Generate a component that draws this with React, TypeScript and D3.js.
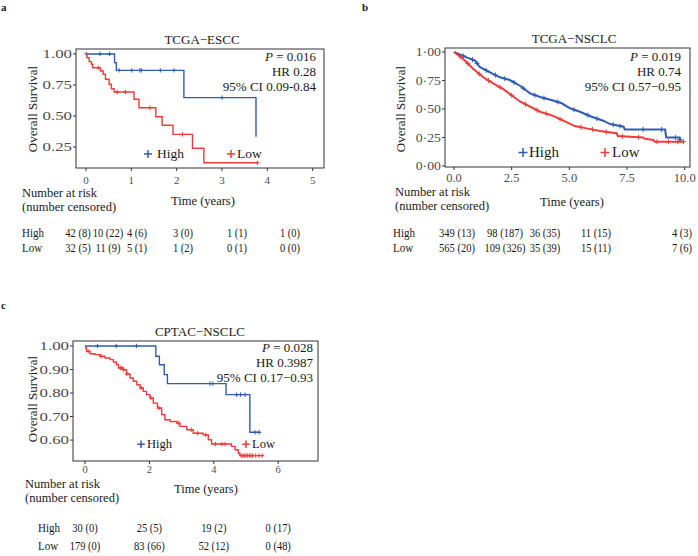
import React from 'react';
import * as d3 from 'd3';

const BLUE = '#2f5cb3';
const RED = '#f23a3a';
const FONT = '"Liberation Serif", "Times New Roman", serif';
const INK = '#1a1a1a';
const GREY = '#4d4d4d';

// ---- a: TCGA-ESCC ----
const escHighTime = [0, 0.63, 0.67, 2.16, 3.75];
const escHighSurv = [1, 0.93, 0.868, 0.648, 0.333];
const escHighCens = [0.01, 0.31, 0.52, 0.73, 1.01, 1.19, 1.22, 1.64, 1.94, 3.0];
const escLowTime = [0, 0.02, 0.07, 0.12, 0.15, 0.32, 0.38, 0.43, 0.51, 0.56, 0.62, 1.06, 1.17, 1.54, 1.68, 1.92, 2.35, 2.6, 3.78];
const escLowSurv = [1, 0.969, 0.938, 0.917, 0.889, 0.863, 0.836, 0.796, 0.756, 0.72, 0.694, 0.635, 0.567, 0.494, 0.425, 0.352, 0.24, 0.123, 0.123];
const escLowCens = [0.27, 0.69, 0.87, 1.41, 2.13, 3.78];
const escXTicks = [0, 1, 2, 3, 4, 5];
const escYTicks = [0.25, 0.5, 0.75, 1.0];
const escRiskHigh = ['42 (8)', '10 (22)', '4 (6)', '3 (0)', '1 (1)', '1 (0)'];
const escRiskLow = ['32 (5)', '11 (9)', '5 (1)', '1 (2)', '0 (1)', '0 (0)'];

// ---- b: TCGA-NSCLC ----
const nscHighTime = [0, 0.3, 0.55, 0.91, 1.13, 1.56, 1.99, 2.42, 2.86, 3.3, 3.73, 4.3, 4.67, 5.03, 5.46, 5.96, 6.47, 6.77, 7.35, 7.4, 9.15, 9.2, 9.78, 9.82];
const nscHighSurv = [1, 0.975, 0.953, 0.924, 0.866, 0.822, 0.778, 0.754, 0.704, 0.637, 0.605, 0.575, 0.55, 0.506, 0.476, 0.432, 0.397, 0.368, 0.345, 0.32, 0.32, 0.25, 0.25, 0.21];
const nscHighCens = [0.4, 0.8, 1.0, 1.4, 1.8, 2.2, 2.6, 3.0, 3.5, 3.9, 4.5, 5.2, 5.8, 6.2, 6.9, 7.2, 8.2, 9.0, 9.6, 9.8];
const nscLowTime = [0, 0.3, 0.55, 0.84, 1.27, 1.7, 2.13, 2.42, 2.86, 3.3, 3.73, 4.3, 4.74, 5.24, 5.75, 6.33, 7.05, 7.1, 8.2, 8.25, 8.64, 8.7, 9.97];
const nscLowSurv = [1, 0.955, 0.91, 0.851, 0.778, 0.725, 0.675, 0.632, 0.566, 0.52, 0.476, 0.44, 0.397, 0.35, 0.33, 0.307, 0.287, 0.262, 0.25, 0.24, 0.228, 0.213, 0.213];
const nscLowCens = [0.3, 0.6, 1.1, 1.5, 2.0, 2.5, 3.1, 3.6, 4.0, 4.6, 5.5, 6.0, 6.6, 7.3, 8.0, 8.8, 9.3, 9.7, 9.95];
const nscXTicks = [0, 2.5, 5, 7.5, 10];
const nscYTicks = [0, 0.25, 0.5, 0.75, 1.0];
const nscRiskHigh = ['349 (13)', '98 (187)', '36 (35)', '11 (15)', '4 (3)'];
const nscRiskLow = ['565 (20)', '109 (326)', '35 (39)', '15 (11)', '7 (6)'];

// ---- c: CPTAC-NSCLC ----
const cpHighTime = [0, 2.2, 2.31, 2.46, 2.56, 4.38, 5.12, 5.43];
const cpHighSurv = [1, 0.956, 0.92, 0.878, 0.84, 0.793, 0.633, 0.633];
const cpHighCens = [0.39, 0.97, 1.6, 3.88, 3.97, 4.71, 4.83, 4.97, 5.28, 5.41];
const cpLowTime = [0, 0.02, 0.05, 0.16, 0.31, 0.47, 0.62, 0.78, 0.88, 0.98, 1.04, 1.19, 1.29, 1.4, 1.5, 1.61, 1.71, 1.81, 1.91, 2.02, 2.12, 2.25, 2.38, 2.48, 2.64, 2.85, 2.95, 3.16, 3.36, 3.67, 3.83, 3.93, 4.55, 4.66, 4.76, 4.81, 5.52];
const cpLowSurv = [1, 0.991, 0.977, 0.967, 0.963, 0.956, 0.949, 0.942, 0.932, 0.92, 0.906, 0.899, 0.881, 0.864, 0.85, 0.835, 0.821, 0.807, 0.793, 0.779, 0.757, 0.736, 0.708, 0.686, 0.679, 0.672, 0.658, 0.644, 0.629, 0.622, 0.601, 0.583, 0.573, 0.559, 0.544, 0.534, 0.534];
const cpLowCens = [0.1, 0.5, 1.1, 1.15, 1.2, 1.3, 1.75, 2.05, 2.3, 2.9, 3.3, 3.5, 3.75, 4.05, 4.25, 4.35, 4.85, 4.9, 4.95, 5.0, 5.05, 5.1, 5.15, 5.2, 5.3, 5.4, 5.5];
const cpXTicks = [0, 2, 4, 6];
const cpYTicks = [0.6, 0.7, 0.8, 0.9, 1.0];
const cpRiskHigh = ['30 (0)', '25 (5)', '19 (2)', '0 (17)'];
const cpRiskLow = ['179 (0)', '83 (66)', '52 (12)', '0 (48)'];

type Curve = { time: number[]; surv: number[]; cens: number[]; color: string };

// survival value at a censoring time (step lookup, or along the drawn line for panel b)
const survAt = (c: Curve, t: number, linear: boolean) => {
  let i = d3.bisectRight(c.time, t) - 1;
  if (i < 0) i = 0;
  if (!linear || i >= c.time.length - 1) return c.surv[i];
  const f = (t - c.time[i]) / (c.time[i + 1] - c.time[i]);
  return c.surv[i] + f * (c.surv[i + 1] - c.surv[i]);
};

const Plus = ({ x, y, s, color, w }: any) => (
  <g stroke={color} strokeWidth={w}>
    <line x1={x - s} x2={x + s} y1={y} y2={y} />
    <line x1={x} x2={x} y1={y - s} y2={y + s} />
  </g>
);

function Panel({ cfg }: { cfg: any }) {
  const { box } = cfg;
  const x = d3.scaleLinear().domain(cfg.xDomain).range([box.left, box.right]);
  const y = d3.scaleLinear().domain(cfg.yDomain).range([box.bottom, box.top]);
  const line = d3
    .line<[number, number]>()
    .x(d => x(d[0]))
    .y(d => y(d[1]))
    .curve(cfg.linear ? d3.curveLinear : d3.curveStepAfter);
  const cols: number[] = cfg.riskCols || cfg.xTicks.map((t: number) => x(t));

  return (
    <g fontFamily={FONT}>
      <text x={cfg.tag[0]} y={cfg.tag[1]} fontSize={11} fontWeight="bold" fill={INK}>{cfg.tagText}</text>
      <text x={cfg.titleX} y={box.top - 5} textAnchor="middle" fontSize={13} fill={INK}>{cfg.title}</text>
      <rect x={box.left} y={box.top} width={box.right - box.left} height={box.bottom - box.top} fill="white" stroke="#333" strokeWidth={1} />
      {/* axes */}
      {cfg.yTicks.map((v: number) => (
        <g key={'y' + v}>
          <line x1={box.left - 3} x2={box.left} y1={y(v)} y2={y(v)} stroke="#333" />
          <g transform={`translate(${box.left - 4},${y(v)}) scale(${cfg.yStretch},1)`}>
            <text textAnchor="end" dominantBaseline="central" fontSize={cfg.yFont} fill={GREY}>{cfg.yFmt(v)}</text>
          </g>
        </g>
      ))}
      {cfg.xTicks.map((v: number) => (
        <g key={'x' + v}>
          <line x1={x(v)} x2={x(v)} y1={box.bottom} y2={box.bottom + 3} stroke="#333" />
          <text x={x(v)} y={cfg.xLabelY} textAnchor="middle" fontSize={cfg.xFont} fill={GREY}>{cfg.xFmt(v)}</text>
        </g>
      ))}
      <text transform={`translate(${cfg.yTitle[0]},${cfg.yTitle[1]}) rotate(-90)`} textAnchor="middle" fontSize={13} fill={INK}>Overall Survival</text>
      {/* curves + censor marks */}
      {cfg.curves.map((c: Curve, k: number) => (
        <g key={'c' + k}>
          <path d={line(c.time.map((t, i) => [t, c.surv[i]] as [number, number])) || ''} fill="none" stroke={c.color} strokeWidth={cfg.lineW} />
          {c.cens.map((t, i) => (
            <Plus key={i} x={x(t)} y={y(survAt(c, t, cfg.linear))} s={cfg.censS} color={c.color} w={1} />
          ))}
        </g>
      ))}
      {/* stats */}
      <g fontSize={13} fill={INK} textAnchor="end">
        <text x={cfg.annX} y={box.top + cfg.annDy}>
          <tspan fontStyle="italic">P</tspan> = {cfg.pval}
        </text>
        <text x={cfg.annX} y={box.top + cfg.annDy + 15}>{cfg.hr}</text>
        <text x={cfg.annX} y={box.top + cfg.annDy + 30}>{cfg.ci}</text>
      </g>
      {/* legend */}
      {cfg.legend.map((l: any, i: number) => (
        <g key={'l' + i}>
          <Plus x={l.px} y={cfg.legY - cfg.legFont * 0.3} s={cfg.legFont * 0.3} color={l.color} w={1.5} />
          <text x={l.tx} y={cfg.legY} fontSize={cfg.legFont} fill={INK}>{l.label}</text>
        </g>
      ))}
      {/* risk table */}
      <text x={cfg.nar[0]} y={cfg.nar[1]} fontSize={12.5} fill={INK}>Number at risk</text>
      <text x={cfg.nar[0]} y={cfg.nar[1] + 14} fontSize={12.5} fill={INK}>(number censored)</text>
      <text x={cfg.timeLab[0]} y={cfg.timeLab[1]} textAnchor="middle" fontSize={12.5} fill={INK}>Time (years)</text>
      {[['High', cfg.riskHigh, cfg.rowY[0]], ['Low', cfg.riskLow, cfg.rowY[1]]].map(([lab, vals, ry]: any) => (
        <g key={lab}>
          <g transform={`translate(${cfg.rowLabX},${ry}) scale(0.88,1)`}>
            <text fontSize={12.5} fill={INK}>{lab}</text>
          </g>
          {vals.map((v: string, i: number) => (
            <g key={i} transform={`translate(${cols[i]},${ry}) scale(0.84,1)`}>
              <text textAnchor="middle" fontSize={12.5} fill={INK}>{v}</text>
            </g>
          ))}
        </g>
      ))}
    </g>
  );
}

const panelA = {
  tagText: 'a', tag: [1, 11],
  title: 'TCGA\u2212ESCC', titleX: 202,
  box: { left: 76, right: 324, top: 49, bottom: 168 },
  xDomain: [-0.22, 5.25], yDomain: [0.081, 1.04],
  xTicks: escXTicks, yTicks: escYTicks,
  yFmt: d3.format('.2f'), xFmt: (d: number) => String(d),
  yFont: 12.5, yStretch: 1.35, xFont: 11, xLabelY: 184,
  yTitle: [37, 109], linear: false, lineW: 1.4, censS: 2.2,
  curves: [
    { time: escHighTime, surv: escHighSurv, cens: escHighCens, color: BLUE },
    { time: escLowTime, surv: escLowSurv, cens: escLowCens, color: RED },
  ],
  annX: 316, annDy: 12, pval: '0.016', hr: 'HR 0.28', ci: '95% CI 0.09-0.84',
  legY: 158, legFont: 13.5,
  legend: [
    { px: 148, tx: 157, label: 'High', color: BLUE },
    { px: 231, tx: 237, label: 'Low', color: RED },
  ],
  nar: [22, 197], timeLab: [203, 205],
  rowLabX: 22, rowY: [237, 252],
  riskCols: [78, 108, 137, 183, 237, 290],
  riskHigh: escRiskHigh, riskLow: escRiskLow,
};

const panelB = {
  tagText: 'b', tag: [362, 11],
  title: 'TCGA\u2212NSCLC', titleX: 574,
  box: { left: 445, right: 690, top: 48, bottom: 167 },
  xDomain: [-0.39, 10.23], yDomain: [-0.009, 1.035],
  xTicks: nscXTicks, yTicks: nscYTicks,
  yFmt: (d: number) => d3.format('.2f')(d).replace('.', '\u00b7'), xFmt: d3.format('.1f'),
  yFont: 12, yStretch: 1.15, xFont: 12.5, xLabelY: 182,
  yTitle: [405, 109], linear: true, lineW: 2, censS: 2.5,
  curves: [
    { time: nscHighTime, surv: nscHighSurv, cens: nscHighCens, color: BLUE },
    { time: nscLowTime, surv: nscLowSurv, cens: nscLowCens, color: RED },
  ],
  annX: 681, annDy: 13, pval: '0.019', hr: 'HR 0.74', ci: '95% CI 0.57\u22120.95',
  legY: 157, legFont: 15,
  legend: [
    { px: 523, tx: 529, label: 'High', color: BLUE },
    { px: 605, tx: 612, label: 'Low', color: RED },
  ],
  nar: [395, 196], timeLab: [572, 206],
  rowLabX: 393, rowY: [237, 252],
  riskCols: [457, 505, 545, 596, 682],
  riskHigh: nscRiskHigh, riskLow: nscRiskLow,
};

const panelC = {
  tagText: 'c', tag: [1, 309],
  title: 'CPTAC\u2212NSCLC', titleX: 200,
  box: { left: 73, right: 318, top: 341, bottom: 461 },
  xDomain: [-0.373, 7.236], yDomain: [0.511, 1.021],
  xTicks: cpXTicks, yTicks: cpYTicks,
  yFmt: d3.format('.2f'), xFmt: (d: number) => String(d),
  yFont: 12.5, yStretch: 1.35, xFont: 10.5, xLabelY: 473,
  yTitle: [37, 399], linear: false, lineW: 1.4, censS: 2.2,
  curves: [
    { time: cpHighTime, surv: cpHighSurv, cens: cpHighCens, color: BLUE },
    { time: cpLowTime, surv: cpLowSurv, cens: cpLowCens, color: RED },
  ],
  annX: 313, annDy: 11, pval: '0.028', hr: 'HR 0.3987', ci: '95% CI 0.17\u22120.93',
  legY: 448, legFont: 12.5,
  legend: [
    { px: 141, tx: 147, label: 'High', color: BLUE },
    { px: 246, tx: 252, label: 'Low', color: RED },
  ],
  nar: [25, 488], timeLab: [206, 493],
  rowLabX: 38, rowY: [532, 550],
  riskCols: null,
  riskHigh: cpRiskHigh, riskLow: cpRiskLow,
};

export default function App() {
  return (
    <svg width={698} height={556} style={{ position: 'absolute', left: 0, top: 0, background: 'white' }}>
      <rect width={698} height={556} fill="white" />
      <Panel cfg={panelA} />
      <Panel cfg={panelB} />
      <Panel cfg={panelC} />
    </svg>
  );
}
